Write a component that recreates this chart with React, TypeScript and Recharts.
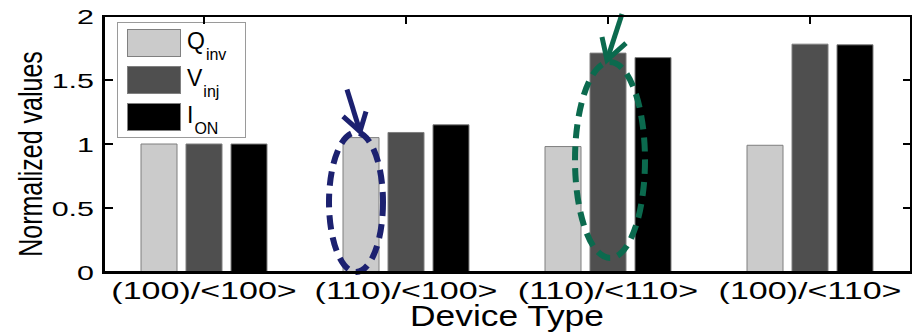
import React from "react";
import {
  BarChart, Bar, XAxis, YAxis, Legend, ReferenceArea,
} from "recharts";

const categories = ["(100)/<100>", "(110)/<100>", "(110)/<110>", "(100)/<110>"];
const qinv = [1.0, 1.05, 0.98, 0.99];
const vinj = [1.0, 1.09, 1.71, 1.78];
const ion = [1.0, 1.15, 1.675, 1.775];
const yTicks = [0, 0.5, 1, 1.5, 2];

const seriesKeys = ["qinv", "vinj", "ion"];
const seriesMain = ["Q", "V", "I"];
const seriesSub = ["inv", "inj", "ON"];
const seriesColors = ["#cbcbcb", "#4f4f4f", "#000000"];

// highlighted bars (category, series index, ellipse top / bottom in data units)
const markCategories = ["(110)/<100>", "(110)/<110>"];
const markSeries = [0, 1];
const markTop = [1.09, 1.64];
const markBottom = [0, 0.11];
const markColors = ["#1c2170", "#0b6a4e"];

const rows = categories.map((name, i) => ({
  name,
  qinv: qinv[i],
  vinj: vinj[i],
  ion: ion[i],
}));

const FONT = "'Liberation Sans', Arial, Helvetica, sans-serif";
const W = 916;
const H = 332;
const MARGIN = { top: 16, right: 5, bottom: 0, left: 0 };
const Y_AXIS_W = 103;
const X_AXIS_H = 60;
const BAR = 36;
const GAP = 9;
const TOP_Z = 1500;

// plot box (same numbers the chart is laid out with)
const PLOT_L = MARGIN.left + Y_AXIS_W;
const PLOT_R = W - MARGIN.right;
const PLOT_T = MARGIN.top;
const PLOT_B = H - MARGIN.bottom - X_AXIS_H;

// annotation geometry (pixels, relative to the highlighted bar)
const markStyle = [
  { dx: -5, rx: 27, tip: [-1, -1], tail: [-13, -42], armA: [-17, -15], armB: [6, -20] },
  { dx: 2, rx: 35, tip: [-1, -2], tail: [15, -46], armA: [-5, -23], armB: [19, -17] },
];

const YTick = (props: any) => {
  const { x, y, payload } = props;
  return (
    <g transform={`translate(${x},${y}) scale(1.45,1)`}>
      <text x={0} y={0} dy="0.36em" textAnchor="end" fontSize={21} fontFamily={FONT} fill="#000">
        {payload.value}
      </text>
    </g>
  );
};

const XTick = (props: any) => {
  const { x, y, payload } = props;
  return (
    <g transform={`translate(${x},${y + 27}) scale(1.48,1)`}>
      <text x={0} y={0} textAnchor="middle" fontSize={23} fontFamily={FONT} fill="#000">
        {payload.value}
      </text>
    </g>
  );
};

const XLabel = (props: any) => {
  const { viewBox } = props;
  const cx = viewBox.x + viewBox.width / 2;
  return (
    <g transform={`translate(${cx},${viewBox.y + 54}) scale(1.22,1)`}>
      <text x={0} y={0} textAnchor="middle" fontSize={29} fontFamily={FONT} fill="#000">
        Device Type
      </text>
    </g>
  );
};

const YLabel = (props: any) => {
  const { viewBox } = props;
  const cy = viewBox.y + viewBox.height / 2 + 10;
  return (
    <g transform={`translate(42,${cy}) scale(1.3,1) rotate(-90)`}>
      <text x={0} y={0} textAnchor="middle" fontSize={25} fontFamily={FONT} fill="#000">
        Normalized values
      </text>
    </g>
  );
};

const renderLegend = (props: any) => {
  const items = seriesKeys.map((key, i) => {
    const hit = (props.payload || []).find((p: any) => p.dataKey === key);
    return { i, color: hit ? hit.color : seriesColors[i] };
  });
  return (
    <div
      style={{
        border: "1px solid #9a9a9a",
        background: "#fff",
        width: 129,
        height: 116,
        boxSizing: "border-box",
        padding: "6px 0 0 9px",
        fontFamily: FONT,
        textAlign: "left",
      }}
    >
      {items.map(({ i, color }) => (
        <div key={`leg-${i}`} style={{ display: "flex", alignItems: "flex-start", height: 37 }}>
          <div
            style={{
              width: 54,
              height: 28,
              background: color,
              border: "1px solid #808080",
              boxSizing: "border-box",
            }}
          />
          <span style={{ marginLeft: 6, fontSize: 23, lineHeight: "24px", color: "#000" }}>
            {seriesMain[i]}
            <span style={{ fontSize: 16, position: "relative", top: 11, marginLeft: 1 }}>
              {seriesSub[i]}
            </span>
          </span>
        </div>
      ))}
    </div>
  );
};

const makeMark = (k: number) => (props: any) => {
  const { x, y, width, height } = props;
  const s = markStyle[k];
  const barLeft = x + (width - (BAR * 3 + GAP * 2)) / 2 + markSeries[k] * (BAR + GAP);
  const bc = barLeft + BAR / 2;
  const cx = bc + s.dx;
  const cy = y + height / 2;
  const tx = bc + s.tip[0];
  const ty = y + s.tip[1];
  const col = markColors[k];
  return (
    <g>
      <ellipse cx={cx} cy={cy} rx={s.rx} ry={height / 2} fill="none" stroke={col}
        strokeWidth={6} strokeDasharray="14 8" />
      <line x1={tx + s.tail[0]} y1={ty + s.tail[1]} x2={tx} y2={ty} stroke={col} strokeWidth={5} />
      <polyline
        points={`${tx + s.armA[0]},${ty + s.armA[1]} ${tx},${ty} ${tx + s.armB[0]},${ty + s.armB[1]}`}
        fill="none" stroke={col} strokeWidth={5}
      />
    </g>
  );
};

// matlab-style box with inward ticks, laid over the chart
const Frame = () => {
  const lo = yTicks[0];
  const hi = yTicks[yTicks.length - 1];
  const yPx = (v: number) => PLOT_B - ((v - lo) / (hi - lo)) * (PLOT_B - PLOT_T);
  const band = (PLOT_R - PLOT_L) / categories.length;
  const tick = (left: number, top: number, w: number, h: number, key: string) => (
    <div key={key} style={{ position: "absolute", left, top, width: w, height: h, background: "#000" }} />
  );
  return (
    <div style={{ position: "absolute", left: 0, top: 0, width: W, height: H, pointerEvents: "none" }}>
      <div
        style={{
          position: "absolute",
          left: PLOT_L - 1,
          top: PLOT_T - 1,
          width: PLOT_R - PLOT_L + 2,
          height: PLOT_B - PLOT_T + 3,
          boxSizing: "border-box",
          borderTop: "2px solid #000",
          borderRight: "2px solid #000",
          borderLeft: "3px solid #000",
          borderBottom: "3px solid #000",
        }}
      />
      {yTicks.slice(1, -1).map((v) => tick(PLOT_L + 2, yPx(v) - 1, 8, 2, `l-${v}`))}
      {yTicks.slice(1, -1).map((v) => tick(PLOT_R - 8, yPx(v) - 1, 8, 2, `r-${v}`))}
      {categories.map((c, i) => tick(PLOT_L + (i + 0.5) * band - 1, PLOT_T + 1, 2, 7, `t-${c}`))}
    </div>
  );
};

export default function App() {
  return (
    <div style={{ position: "absolute", left: 0, top: 0, width: W, height: H }}>
      <BarChart
        width={W}
        height={H}
        data={rows}
        margin={MARGIN}
        barSize={BAR}
        barGap={GAP}
      >
        <XAxis
          dataKey="name"
          height={X_AXIS_H}
          interval={0}
          axisLine={false}
          tickLine={false}
          tickSize={0}
          tickMargin={0}
          tick={<XTick />}
          label={<XLabel />}
        />
        <YAxis
          width={Y_AXIS_W}
          domain={[0, 2]}
          ticks={yTicks}
          axisLine={false}
          tickLine={false}
          tickSize={0}
          tickMargin={9}
          tick={<YTick />}
          label={<YLabel />}
        />
        <Legend
          layout="vertical"
          align="center"
          verticalAlign="middle"
          content={renderLegend}
          wrapperStyle={{ position: "absolute", left: 117, top: 22, width: 129, height: 116 }}
        />
        {seriesKeys.map((key, i) => (
          <Bar
            key={key}
            dataKey={key}
            name={seriesMain[i] + "_" + seriesSub[i]}
            fill={seriesColors[i]}
            stroke="#7f7f7f"
            strokeWidth={1}
            isAnimationActive={false}
          />
        ))}
        {markCategories.map((cat, k) => (
          <ReferenceArea
            key={`mark-${k}`}
            x1={cat}
            x2={cat}
            y1={markBottom[k]}
            y2={markTop[k]}
            ifOverflow="visible"
            zIndex={TOP_Z}
            shape={makeMark(k)}
          />
        ))}
      </BarChart>
      <Frame />
    </div>
  );
}
